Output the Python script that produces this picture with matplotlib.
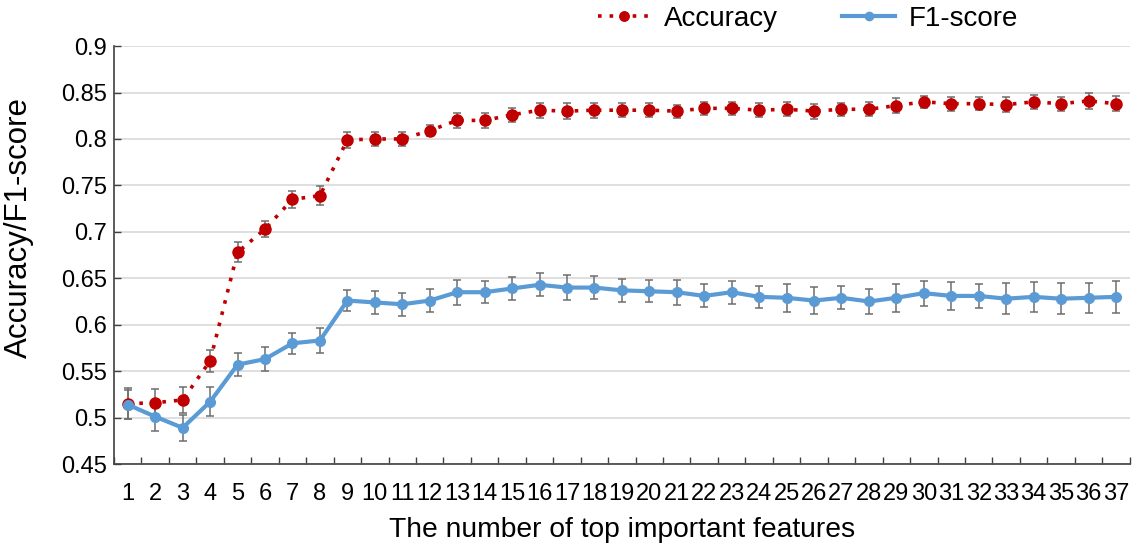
import matplotlib
matplotlib.use("Agg")
import matplotlib.pyplot as plt
import numpy as np

features = list(range(1, 38))
acc = [0.515, 0.516, 0.519, 0.561, 0.678, 0.703, 0.735, 0.739, 0.799, 0.800, 0.800, 0.809,
       0.820, 0.820, 0.826, 0.831, 0.830, 0.831, 0.831, 0.831, 0.830, 0.833, 0.833, 0.831,
       0.832, 0.830, 0.832, 0.832, 0.836, 0.840, 0.838, 0.838, 0.837, 0.840, 0.838, 0.841, 0.838]
acc_err = [0.017, 0.015, 0.014, 0.012, 0.011, 0.009, 0.009, 0.010, 0.009, 0.008, 0.008, 0.006,
           0.008, 0.008, 0.0075, 0.008, 0.009, 0.008, 0.0075, 0.0075, 0.007, 0.007, 0.007, 0.0075,
           0.0077, 0.008, 0.007, 0.0077, 0.008, 0.0065, 0.0077, 0.007, 0.008, 0.0075, 0.0077, 0.009, 0.008]
f1 = [0.514, 0.501, 0.489, 0.517, 0.557, 0.563, 0.580, 0.583, 0.626, 0.624, 0.622, 0.626,
      0.635, 0.635, 0.639, 0.643, 0.640, 0.640, 0.637, 0.636, 0.635, 0.631, 0.635, 0.630,
      0.629, 0.626, 0.629, 0.625, 0.629, 0.634, 0.631, 0.631, 0.628, 0.630, 0.628, 0.629, 0.630]
f1_err = [0.016, 0.015, 0.014, 0.0155, 0.0126, 0.013, 0.011, 0.0136, 0.011, 0.0125, 0.0124, 0.012,
          0.0136, 0.0117, 0.0124, 0.0124, 0.0136, 0.0126, 0.0124, 0.012, 0.0136, 0.0124, 0.0124, 0.012,
          0.015, 0.015, 0.0124, 0.0136, 0.015, 0.0136, 0.015, 0.013, 0.0167, 0.016, 0.0167, 0.016, 0.0174]

yticks = [0.45, 0.5, 0.55, 0.6, 0.65, 0.7, 0.75, 0.8, 0.85, 0.9]
ytick_labels = ["0.45", "0.5", "0.55", "0.6", "0.65", "0.7", "0.75", "0.8", "0.85", "0.9"]

plt.rcParams["font.family"] = ["Liberation Sans", "DejaVu Sans"]

fig = plt.figure(figsize=(11.38, 5.49), dpi=100)
ax = fig.add_axes([0.1002, 0.1548, 0.8925, 0.7612])

red = "#C00000"
blue = "#5B9BD5"
errc = "#6d6d6d"

ax.errorbar(features, acc, yerr=acc_err, fmt="none", ecolor=errc, elinewidth=1.1,
            capsize=3, capthick=1.1, zorder=3)
ax.errorbar(features, f1, yerr=f1_err, fmt="none", ecolor=errc, elinewidth=1.1,
            capsize=3, capthick=1.1, zorder=3)
ax.plot(features, acc, color=red, linestyle=(0, (1, 2.2)), linewidth=2.6,
        marker="o", markersize=8, label="Accuracy", zorder=4)
ax.plot(features, f1, color=blue, linestyle="-", linewidth=3,
        marker="o", markersize=7, label="F1-score", zorder=4)

ax.set_xlim(0.5, 37.5)
ax.set_ylim(0.45, 0.9)
ax.set_yticks(yticks)
ax.set_yticklabels(ytick_labels, fontsize=17)
ax.set_xticks(features)
ax.set_xticklabels([str(f) for f in features], fontsize=17)
ax.set_xticks(np.arange(0.5, 38, 1.0), minor=True)
ax.tick_params(axis="x", which="major", length=0, pad=14)
ax.tick_params(axis="x", which="minor", direction="in", length=5, width=1, color="#404040")
ax.tick_params(axis="y", direction="in", length=5, width=1, color="#404040", pad=5)

ax.grid(axis="y", color="#d9d9d9", linewidth=1.2)
ax.set_axisbelow(True)
for s in ["top", "right"]:
    ax.spines[s].set_visible(False)
for s in ["left", "bottom"]:
    ax.spines[s].set_color("#404040")
    ax.spines[s].set_linewidth(1.2)

ax.set_ylabel("Accuracy/F1-score", fontsize=22.5)
ax.yaxis.set_label_coords(-0.079, 0.565)
ax.set_xlabel("The number of top important features", fontsize=20.3, labelpad=8)

leg = fig.legend(loc="center", bbox_to_anchor=(0.71, 0.965), ncol=2, frameon=False,
                 prop={"size": 20}, handlelength=1.9, columnspacing=2.3,
                 handletextpad=0.5, markerscale=0.85)

fig.savefig("out.png", dpi=100)
